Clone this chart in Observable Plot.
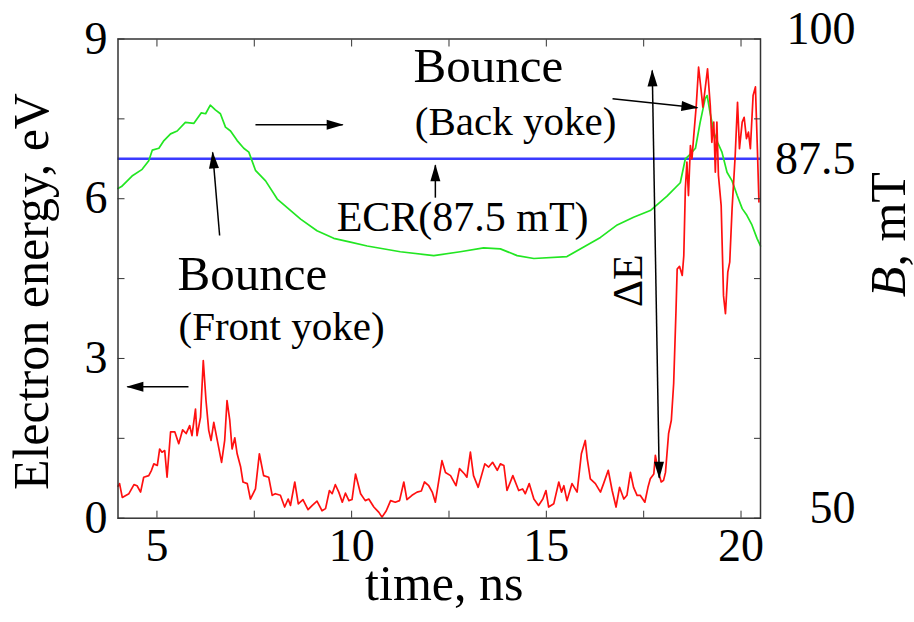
<!DOCTYPE html>
<html><head><meta charset="utf-8">
<script src="https://cdn.jsdelivr.net/npm/d3@7"></script>
<script src="https://cdn.jsdelivr.net/npm/@observablehq/plot@0.6"></script>
<style>
body{margin:0;background:#fff}
#chart{width:914px;height:622px}
</style>
</head><body><div id="chart"></div>
<script>
// ---- data ----
const redT = [4.00,4.04,4.11,4.28,4.41,4.49,4.58,4.66,4.79,4.86,4.92,5.01,5.07,5.13,5.20,5.26,5.35,5.46,5.56,5.66,5.75,5.84,5.90,5.99,6.03,6.12,6.19,6.26,6.33,6.39,6.46,6.50,6.66,6.74,6.80,6.87,6.93,7.00,7.06,7.15,7.21,7.32,7.40,7.53,7.63,7.74,7.87,7.96,8.04,8.17,8.28,8.37,8.43,8.54,8.63,8.75,8.88,8.99,9.11,9.24,9.33,9.43,9.50,9.58,9.67,9.76,9.84,9.93,10.01,10.10,10.23,10.35,10.44,10.57,10.70,10.78,10.89,11.00,11.12,11.23,11.34,11.42,11.55,11.68,11.79,11.87,11.98,12.07,12.15,12.32,12.41,12.54,12.68,12.77,12.90,12.96,13.05,13.13,13.25,13.42,13.52,13.62,13.74,13.82,13.91,13.99,14.14,14.29,14.39,14.46,14.56,14.68,14.80,14.91,14.99,15.06,15.19,15.32,15.39,15.45,15.53,15.66,15.79,15.90,16.00,16.05,16.13,16.26,16.39,16.47,16.59,16.69,16.79,16.88,16.99,17.07,17.16,17.24,17.33,17.41,17.53,17.61,17.67,17.76,17.80,17.87,17.95,18.01,18.06,18.14,18.21,18.27,18.33,18.36,18.42,18.49,18.53,18.57,18.61,18.65,18.70,18.74,18.78,18.85,18.91,18.97,19.02,19.08,19.14,19.21,19.25,19.30,19.34,19.38,19.42,19.49,19.55,19.60,19.66,19.71,19.77,19.85,19.91,19.96,20.03,20.08,20.14,20.19,20.24,20.31,20.37,20.42,20.46];
const redE = [0.60,0.65,0.39,0.46,0.63,0.61,0.49,0.77,0.80,0.90,1.02,0.99,1.30,1.24,1.27,0.77,1.62,1.62,1.40,1.66,1.59,1.74,1.55,2.05,1.55,1.90,2.96,2.21,1.65,1.46,1.80,1.65,1.05,1.46,2.21,1.84,1.30,1.51,1.21,0.96,0.68,0.65,0.36,0.55,1.21,0.80,0.77,0.43,0.46,0.43,0.21,0.36,0.24,0.68,0.27,0.35,0.16,0.24,0.32,0.14,0.18,0.52,0.46,0.63,0.49,0.30,0.47,0.33,0.35,0.83,0.46,0.33,0.36,0.21,0.11,0.02,0.14,0.33,0.30,0.33,0.68,0.35,0.43,0.49,0.51,0.68,0.61,0.49,0.30,1.08,0.86,0.80,0.61,0.93,0.83,0.77,1.24,0.80,0.58,1.02,0.96,1.05,0.90,1.02,0.99,0.52,0.80,0.52,0.55,0.46,0.65,0.36,0.24,0.36,0.52,0.21,0.27,0.68,0.49,0.61,0.33,0.65,0.49,1.21,1.46,1.12,0.74,0.65,0.49,0.65,0.90,0.52,0.21,0.58,0.36,0.43,0.86,0.58,0.43,0.43,0.30,0.58,0.74,0.83,1.18,0.90,0.68,0.71,0.86,1.59,1.84,2.53,3.90,4.68,4.73,4.56,4.93,6.19,6.69,6.06,7.00,6.75,7.13,7.75,8.47,8.07,7.72,8.07,8.44,7.75,7.06,7.44,6.50,7.44,6.44,5.87,4.18,3.84,4.62,4.81,5.81,6.81,7.81,6.94,7.44,7.53,7.13,7.25,6.94,7.94,8.10,6.94,5.94];
const greenT = [4.00,4.09,4.36,4.62,4.79,4.88,5.05,5.18,5.35,5.52,5.73,5.95,6.14,6.25,6.37,6.50,6.63,6.76,6.89,7.06,7.23,7.36,7.53,7.79,8.09,8.69,9.11,9.54,9.97,10.40,11.25,12.11,12.79,13.39,13.82,14.25,14.68,15.53,15.96,16.39,16.82,17.24,17.67,18.10,18.44,18.57,18.70,18.83,18.95,19.08,19.13,19.21,19.30,19.40,19.51,19.64,19.77,19.90,20.03,20.15,20.28,20.41,20.50];
const greenB = [84.4,84.6,85.7,86.4,87.3,88.4,88.6,89.4,90.1,90.4,91.3,91.2,92.3,92.2,93.1,92.6,92.2,90.8,90.4,89.4,88.6,88.2,86.3,85.2,83.3,81.2,80.0,79.2,78.8,78.4,77.8,77.4,77.8,78.2,78.1,77.4,77.1,77.3,78.3,79.3,80.6,81.4,82.1,83.6,85.0,87.5,88.0,88.6,91.3,93.8,94.1,92.2,90.3,89.2,88.2,86.1,85.2,83.7,82.3,81.6,80.6,79.2,78.4];
const ecrB = 87.5;

// axes
const timeDomain = [4, 20.5];
const energyDomain = [0, 9];
const bDomain = [50, 100];
const xTickLabels = [5, 10, 15, 20];
const xTickMarks = [5, 7.5, 10, 12.5, 15, 17.5, 20];
const yTickLabels = [0, 3, 6, 9];
const yTickMarks = [0, 1.5, 3, 4.5, 6, 7.5, 9];
const bTickLabels = [100, 87.5, 50];

// annotations (time, energy units)
const noteText  = ["Bounce", "(Front yoke)", "Bounce", "(Back yoke)", "ECR(87.5 mT)"];
const noteX     = [7.45, 8.20, 13.51, 14.21, 12.85];
const noteY     = [4.28, 3.34, 8.20, 7.19, 5.40];
const noteSize  = [49, 41, 49, 41, 42];
const arrowX1 = [7.53, 6.61, 12.15, 5.81, 16.70];
const arrowY1 = [7.39, 5.31, 6.02, 2.47, 7.88];
const arrowX2 = [9.77, 6.43, 12.15, 4.24, 18.88];
const arrowY2 = [7.39, 6.87, 6.63, 2.47, 7.71];
const deltaX = [17.72, 17.90];
const deltaY = [8.41, 0.76];
const deltaLabel = {text: "ΔE", x: 17.11, y: 4.46};

// ---- chart ----
const bToE = b => (b - bDomain[0]) / (bDomain[1] - bDomain[0]) * energyDomain[1];
const red = redT.map((t, i) => ({t, v: redE[i]}));
const green = greenT.map((t, i) => ({t, v: bToE(greenB[i])}));
const notes = noteText.map((s, i) => ({s, x: noteX[i], y: noteY[i], f: noteSize[i]}));
const arrows = arrowX1.map((x1, i) => ({x1, y1: arrowY1[i], x2: arrowX2[i], y2: arrowY2[i]}));
const delta = [{x1: deltaX[0], y1: deltaY[0], x2: deltaX[1], y2: deltaY[1]}];
const font = "'Liberation Serif','Times New Roman',serif";
const frameColor = "#333";

const chart = Plot.plot({
  width: 914, height: 622,
  marginLeft: 117.5, marginRight: 154, marginTop: 38.5, marginBottom: 104.3,
  style: {fontFamily: font, fontSize: "46px", color: "#000", background: "#fff"},
  x: {domain: timeDomain},
  y: {domain: energyDomain},
  marks: [
    Plot.ruleY([bToE(ecrB)], {stroke: "#3b3bff", strokeWidth: 2.5}),
    Plot.line(green, {x: "t", y: "v", stroke: "#22e622", strokeWidth: 1.7}),
    Plot.line(red, {x: "t", y: "v", stroke: "#ff1010", strokeWidth: 1.7}),
    Plot.frame({stroke: frameColor, strokeWidth: 1.5}),
    Plot.axisX(xTickMarks, {anchor: "bottom", tickSize: 7, dy: -7, tickFormat: () => "", label: null, stroke: frameColor}),
    Plot.axisX(xTickMarks, {anchor: "top", tickSize: 7, dy: 7, tickFormat: () => "", label: null, stroke: frameColor}),
    Plot.axisY(yTickMarks, {anchor: "left", tickSize: 7, dx: 7, tickFormat: () => "", label: null, stroke: frameColor}),
    Plot.axisY(yTickMarks, {anchor: "right", tickSize: 7, dx: -7, tickFormat: () => "", label: null, stroke: frameColor}),
    Plot.axisX(xTickLabels, {anchor: "bottom", tickSize: 0, tickPadding: 10, label: null, fontSize: 46, tickFormat: d => String(d)}),
    Plot.axisY(yTickLabels, {anchor: "left", tickSize: 0, tickPadding: 10.5, label: null, fontSize: 46, tickFormat: d => String(d)}),
    Plot.text(bTickLabels.filter(b => b !== ecrB), {y: bToE, text: d => String(d), frameAnchor: "right", textAnchor: "end", lineAnchor: "middle", dx: 95, dy: -10, fontSize: 46}),
    Plot.text(bTickLabels.filter(b => b === ecrB), {y: bToE, text: d => String(d), frameAnchor: "right", textAnchor: "end", lineAnchor: "middle", dx: 95, fontSize: 46}),
    Plot.text(["time, ns"], {text: d => d, frameAnchor: "bottom", textAnchor: "middle", lineAnchor: "middle", dx: 5, dy: 66, fontSize: 50}),
    Plot.text(["Electron energy, eV"], {text: d => d, frameAnchor: "left", textAnchor: "middle", lineAnchor: "middle", rotate: -90, dx: -86.5, dy: 13, fontSize: 50}),
    Plot.text(["B"], {text: d => d, frameAnchor: "right", rotate: -90, textAnchor: "end", lineAnchor: "middle", dx: 128, dy: -12, fontSize: 50, fontStyle: "italic"}),
    Plot.text([", mT"], {text: d => d, frameAnchor: "right", rotate: -90, textAnchor: "start", lineAnchor: "middle", dx: 128, dy: -12, fontSize: 50}),
    Plot.text(notes, {x: "x", y: "y", text: "s", fontSize: "f", lineAnchor: "bottom", textAnchor: "middle"}),
    Plot.text([deltaLabel], {x: "x", y: "y", text: "text", rotate: -90, textAnchor: "middle", lineAnchor: "middle", fontSize: 42}),
    Plot.link(arrows, {x1: "x1", y1: "y1", x2: "x2", y2: "y2", stroke: "#000", strokeWidth: 1.5, markerEnd: "arrow"}),
    Plot.link(delta, {x1: "x1", y1: "y1", x2: "x2", y2: "y2", stroke: "#000", strokeWidth: 1.5, markerStart: "arrow", markerEnd: "arrow"})
  ]
});

// filled arrowheads (start markers point backwards)
const ns = "http://www.w3.org/2000/svg";
chart.querySelectorAll("marker").forEach(m => {
  m.setAttribute("viewBox", "-18 -6 20 12");
  m.setAttribute("markerUnits", "userSpaceOnUse");
  m.setAttribute("markerWidth", 20);
  m.setAttribute("markerHeight", 12);
  m.setAttribute("orient", "auto-start-reverse");
  while (m.firstChild) m.removeChild(m.firstChild);
  const p = document.createElementNS(ns, "path");
  p.setAttribute("d", "M-16,-5L1,0L-16,5Z");
  p.setAttribute("fill", "#000");
  p.setAttribute("stroke", "none");
  m.appendChild(p);
});
document.getElementById("chart").appendChild(chart);
</script></body></html>
